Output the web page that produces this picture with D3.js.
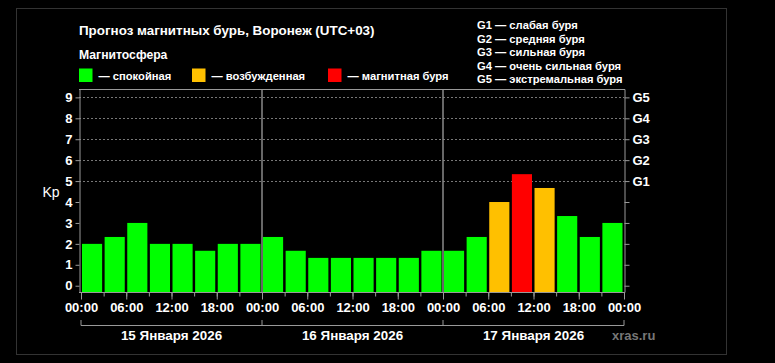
<!DOCTYPE html>
<html>
<head>
<meta charset="utf-8">
<title>Прогноз магнитных бурь, Воронеж</title>
<script src="https://d3js.org/d3.v7.min.js"></script>
<style>
  body { margin: 0; background: #000; }
  svg { display: block; font-family: "Liberation Sans", Arial, sans-serif; font-weight: bold; }
</style>
</head>
<body>
<svg width="775" height="363"></svg>
<script>
// 3-hour Kp forecast, 15-17 Jan 2026
var days = ["15 Января 2026", "16 Января 2026", "17 Января 2026"];
var hours = [0, 3, 6, 9, 12, 15, 18, 21];
var kp = [
  2, 2.33, 3, 2, 2, 1.67, 2, 2,
  2.33, 1.67, 1.33, 1.33, 1.33, 1.33, 1.33, 1.67,
  1.67, 2.33, 4, 5.33, 4.67, 3.33, 2.33, 3
];
var gLabels = ["G1", "G2", "G3", "G4", "G5"];
var gNotes = ["слабая буря", "средняя буря", "сильная буря", "очень сильная буря", "экстремальная буря"];
var stateNames = ["спокойная", "возбужденная", "магнитная буря"];
var stateColors = ["#00ff00", "#ffc000", "#ff0000"];

var bars = kp.map(function (v, i) {
  return { start: new Date(Date.UTC(2026, 0, 15 + Math.floor(i / 8), hours[i % 8])), kp: v };
});

var svg = d3.select("svg");
var plotL = 79, plotR = 624, plotT = 89, plotB = 292;

var x = d3.scaleUtc()
  .domain([new Date(Date.UTC(2026, 0, 15)), new Date(Date.UTC(2026, 0, 18))])
  .range([81, 624]);
var y = d3.scaleLinear().domain([-0.3, 9.4]).range([plotB, plotT]);
var color = d3.scaleThreshold().domain([4, 5]).range(stateColors);

// outer frame
svg.append("rect").attr("x", 16.5).attr("y", 8.5).attr("width", 710).attr("height", 346)
  .attr("fill", "none").attr("stroke", "#333");

// title + legend
svg.append("text").attr("x", 79).attr("y", 35).attr("fill", "#fff").attr("font-size", 13.4)
  .text("Прогноз магнитных бурь, Воронеж (UTC+03)");
svg.append("text").attr("x", 79).attr("y", 59).attr("fill", "#fff").attr("font-size", 12.2)
  .text("Магнитосфера");

var legX = [79, 192, 328];
stateNames.forEach(function (name, i) {
  svg.append("rect").attr("x", legX[i]).attr("y", 68.5).attr("width", 13.5).attr("height", 13.5)
    .attr("fill", stateColors[i]);
  svg.append("text").attr("x", legX[i] + 19.5).attr("y", 79.5).attr("fill", "#fff").attr("font-size", 11.2)
    .text("— " + name);
});

gLabels.forEach(function (g, i) {
  svg.append("text").attr("x", 477).attr("y", 29 + i * 13.5).attr("fill", "#fff").attr("font-size", 11.2)
    .text(g + " — " + gNotes[i]);
});

// dotted grid at Kp 5..9
svg.append("g").selectAll("line").data(d3.range(5, 10)).join("line")
  .attr("x1", plotL).attr("x2", plotR)
  .attr("y1", function (d) { return Math.round(y(d)) + 0.5; })
  .attr("y2", function (d) { return Math.round(y(d)) + 0.5; })
  .attr("stroke", "#777").attr("stroke-dasharray", "2,2");

// bars
svg.append("g").selectAll("rect").data(bars).join("rect")
  .attr("x", function (d) { return x(d.start) + 1; })
  .attr("width", function (d) { return x(d3.utcHour.offset(d.start, 3)) - x(d.start) - 2.5; })
  .attr("y", function (d) { return y(d.kp); })
  .attr("height", function (d) { return plotB - y(d.kp); })
  .attr("fill", function (d) { return color(d.kp); });

// day separators
svg.append("g").selectAll("line").data([1, 2]).join("line")
  .attr("x1", function (d) { return x(new Date(Date.UTC(2026, 0, 15 + d))); })
  .attr("x2", function (d) { return x(new Date(Date.UTC(2026, 0, 15 + d))); })
  .attr("y1", plotT).attr("y2", plotB)
  .attr("stroke", "#8a8a8a").attr("stroke-width", 1.5);

// plot border top
svg.append("line").attr("x1", plotL).attr("x2", plotR + 1).attr("y1", plotT + 0.5).attr("y2", plotT + 0.5)
  .attr("stroke", "#999");

// left axis
var yl = svg.append("g").attr("transform", "translate(" + (plotL + 0.5) + ",0)")
  .call(d3.axisLeft(y).tickValues(d3.range(0, 10)).tickSize(4).tickPadding(3).tickSizeOuter(0));
// right axis
var yr = svg.append("g").attr("transform", "translate(" + (plotR + 0.5) + ",0)")
  .call(d3.axisRight(y).tickValues(d3.range(0, 10)).tickSize(5).tickPadding(3).tickSizeOuter(0)
    .tickFormat(function (d) { return d >= 5 ? gLabels[d - 5] : ""; }));
// bottom axis, minor then major ticks
var xb = svg.append("g").attr("transform", "translate(0," + (plotB + 0.5) + ")")
  .call(d3.axisBottom(x).ticks(d3.utcHour.every(3)).tickSize(4).tickSizeOuter(0).tickFormat(""));
var xm = svg.append("g").attr("transform", "translate(0," + (plotB + 0.5) + ")")
  .call(d3.axisBottom(x).ticks(d3.utcHour.every(6)).tickSize(7).tickPadding(3).tickSizeOuter(0)
    .tickFormat(d3.utcFormat("%H:%M")));
xb.select(".domain").attr("d", "M" + plotL + ",0H" + (plotR + 1));

[yl, yr, xb, xm].forEach(function (a) {
  a.selectAll(".domain, line").attr("stroke", "#999");
  a.selectAll("text").attr("fill", "#fff").attr("font-size", 13)
    .attr("font-family", "Liberation Sans, Arial, sans-serif").attr("font-weight", "bold");
});
xm.select(".domain").remove();

svg.append("text").attr("x", 42.5).attr("y", y(4.5) + 5).attr("fill", "#fff").attr("font-size", 14)
  .attr("font-weight", "normal").text("Kp");

// day brackets
var dayStarts = days.map(function (d, i) { return new Date(Date.UTC(2026, 0, 15 + i)); });
var br = svg.append("g").attr("stroke", "#999").attr("fill", "none");
br.append("path").attr("d", "M" + x(dayStarts[0]) + ",320V325.5H" + x(new Date(Date.UTC(2026, 0, 18))) + "V320");
br.selectAll("line").data(dayStarts.slice(1)).join("line")
  .attr("x1", function (d) { return x(d); }).attr("x2", function (d) { return x(d); })
  .attr("y1", 320).attr("y2", 325.5);

svg.append("g").selectAll("text").data(days).join("text")
  .attr("x", function (d, i) { return x(d3.utcHour.offset(dayStarts[i], 12)); })
  .attr("y", 340).attr("text-anchor", "middle").attr("fill", "#fff").attr("font-size", 13.4)
  .text(function (d) { return d; });

svg.append("text").attr("x", 612).attr("y", 340).attr("fill", "#777").attr("font-size", 13)
  .text("xras.ru");
</script>
</body>
</html>
